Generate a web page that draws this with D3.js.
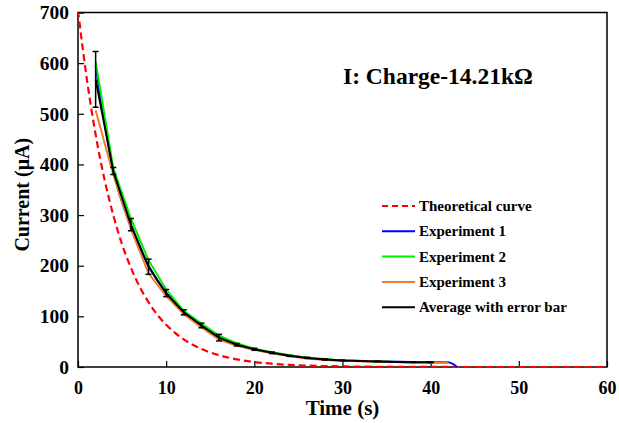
<!DOCTYPE html>
<html><head><meta charset="utf-8">
<script src="https://cdn.jsdelivr.net/npm/d3@7"></script>
<style>
body{margin:0;background:#fff;}
text{font-family:"Liberation Serif","Times New Roman",serif;font-weight:bold;fill:#000;}
</style></head>
<body><svg id="c" width="619" height="423"></svg>
<script>
// Theoretical curve (time s, current µA)
const theoT = [0,1,2,3,4,5,6,7,8,9,10,11,12,13,14,15,16,17,18,19,20,22,24,26,28,30,35,40,50,60];
const theoI = [704,569,459,371,300,242,196,158,128,103,83.5,67.4,54.5,44,35.6,28.7,23.2,18.8,15.2,12.2,9.9,6.5,4.2,2.7,1.8,1.2,0.4,0.1,0,0];

// Experiments: sampled every 2 s
const expT = [2,4,6,8,10,12,14,16,18,20,22,24,26,28,30,32,34,36,38,40,42];
const exp1 = [595,388,277,200,146,108,82,57,44,35,28,22,18,15,13,12,11,10.5,10,10,9.5];
const exp2 = [603,393,293,211,153,111,86,62,47,36,29,23,19,16,13,12,11,10,9.5,9,9];
const exp3 = [507,380,272,185,140,104,78,54,42,34,27,21,17,14,12.5,11.5,10.5,10,9,8.5,8.5];
const avgI = [568,387,281,198,146,108,82,58,44,35,28,22,18,15,13,12,11,10,9.5,9.2,9];
const errI = [55,7,12,15,7,5,4.5,6.5,2.5,2,1.5,1,1,1,0.5,0.5,0.5,0.5,0.5,0.5,0.5];
// Experiment 1 tail (drop to zero)
const exp1TailT = [42,42.5,43];
const exp1TailI = [9.5,6,0];

const xTicks = [0,10,20,30,40,50,60];
const yTicks = [0,100,200,300,400,500,600,700];
const legendLabels = ["Theoretical curve","Experiment 1","Experiment 2","Experiment 3","Average with error bar"];
const colors = ["#ff0000","#0000ff","#00ee00","#ed7d31","#000000"];

const svg = d3.select("#c");
const L=78, R=607, T=12.5, B=367;
const x = d3.scaleLinear().domain([0,60]).range([L,R]);
const y = d3.scaleLinear().domain([0,700]).range([B,T]);

// axes (ticks inside)
const gx = svg.append("g").attr("transform",`translate(0,${B})`)
  .call(d3.axisBottom(x).tickValues(xTicks).tickSizeInner(-6).tickSizeOuter(0).tickPadding(14));
const gy = svg.append("g").attr("transform",`translate(${L},0)`)
  .call(d3.axisLeft(y).tickValues(yTicks).tickSizeInner(-6).tickSizeOuter(0).tickPadding(9));
[gx,gy].forEach(g=>{
  g.select(".domain").remove();
  g.selectAll("line").attr("stroke","#000").attr("stroke-width",1.2);
  g.selectAll("text").style("font-family","Liberation Serif").style("font-weight","bold").attr("fill","#000");
});
gx.selectAll("text").style("font-size","18px");
gy.selectAll("text").style("font-size","19.5px");
// frame
svg.append("rect").attr("x",L).attr("y",T).attr("width",R-L).attr("height",B-T)
  .attr("fill","none").attr("stroke","#000").attr("stroke-width",1.5);

const line = d3.line().x(d=>x(d[0])).y(d=>y(d[1]));
svg.append("clipPath").attr("id","cp").append("rect").attr("x",L).attr("y",T).attr("width",R-L).attr("height",B-T+2);
const plot = svg.append("g").attr("clip-path","url(#cp)");

plot.append("path").datum(theoT.map((t,i)=>[t,theoI[i]])).attr("d",line.curve(d3.curveMonotoneX))
  .attr("fill","none").attr("stroke",colors[0]).attr("stroke-width",2.2).attr("stroke-dasharray","7,4");
const e1 = expT.map((t,i)=>[t,exp1[i]]).concat(exp1TailT.slice(1).map((t,i)=>[t,exp1TailI[i+1]]));
plot.append("path").datum(e1).attr("d",line.curve(d3.curveMonotoneX)).attr("fill","none").attr("stroke",colors[1]).attr("stroke-width",2);
line.curve(d3.curveLinear);
plot.append("path").datum(expT.map((t,i)=>[t,exp2[i]])).attr("d",line).attr("fill","none").attr("stroke",colors[2]).attr("stroke-width",2);
plot.append("path").datum(expT.map((t,i)=>[t,exp3[i]])).attr("d",line).attr("fill","none").attr("stroke",colors[3]).attr("stroke-width",2);
plot.append("path").datum(expT.slice(0,20).map((t,i)=>[t,avgI[i]])).attr("d",line).attr("fill","none").attr("stroke",colors[4]).attr("stroke-width",2);

// error bars
const eb = plot.append("g").attr("stroke","#000").attr("stroke-width",1.5);
expT.slice(0,20).forEach((t,i)=>{
  const cx=x(t), y1=y(avgI[i]+errI[i]), y2=y(avgI[i]-errI[i]);
  eb.append("line").attr("x1",cx).attr("x2",cx).attr("y1",y1).attr("y2",y2);
  eb.append("line").attr("x1",cx-3).attr("x2",cx+3).attr("y1",y1).attr("y2",y1);
  eb.append("line").attr("x1",cx-3).attr("x2",cx+3).attr("y1",y2).attr("y2",y2);
});

// axis titles
svg.append("text").attr("x",(L+R)/2).attr("y",415).attr("text-anchor","middle").style("font-size","21px").text("Time (s)");
svg.append("text").attr("transform",`translate(29,${(T+B)/2+5}) rotate(-90)`).attr("text-anchor","middle").style("font-size","20px").text("Current (\u03bcA)");

// title
svg.append("text").attr("x",343).attr("y",84).style("font-size","23.5px").text("I: Charge-14.21k\u03a9");

// legend
const lg = svg.append("g");
legendLabels.forEach((lab,i)=>{
  const yy = 206 + i*25.3;
  lg.append("line").attr("x1",382).attr("x2",415).attr("y1",yy).attr("y2",yy)
    .attr("stroke",colors[i]).attr("stroke-width",2).attr("stroke-dasharray", i===0?"6,4":null);
  lg.append("text").attr("x",419).attr("y",yy+5).style("font-size","15px").text(lab);
});
</script></body></html>
